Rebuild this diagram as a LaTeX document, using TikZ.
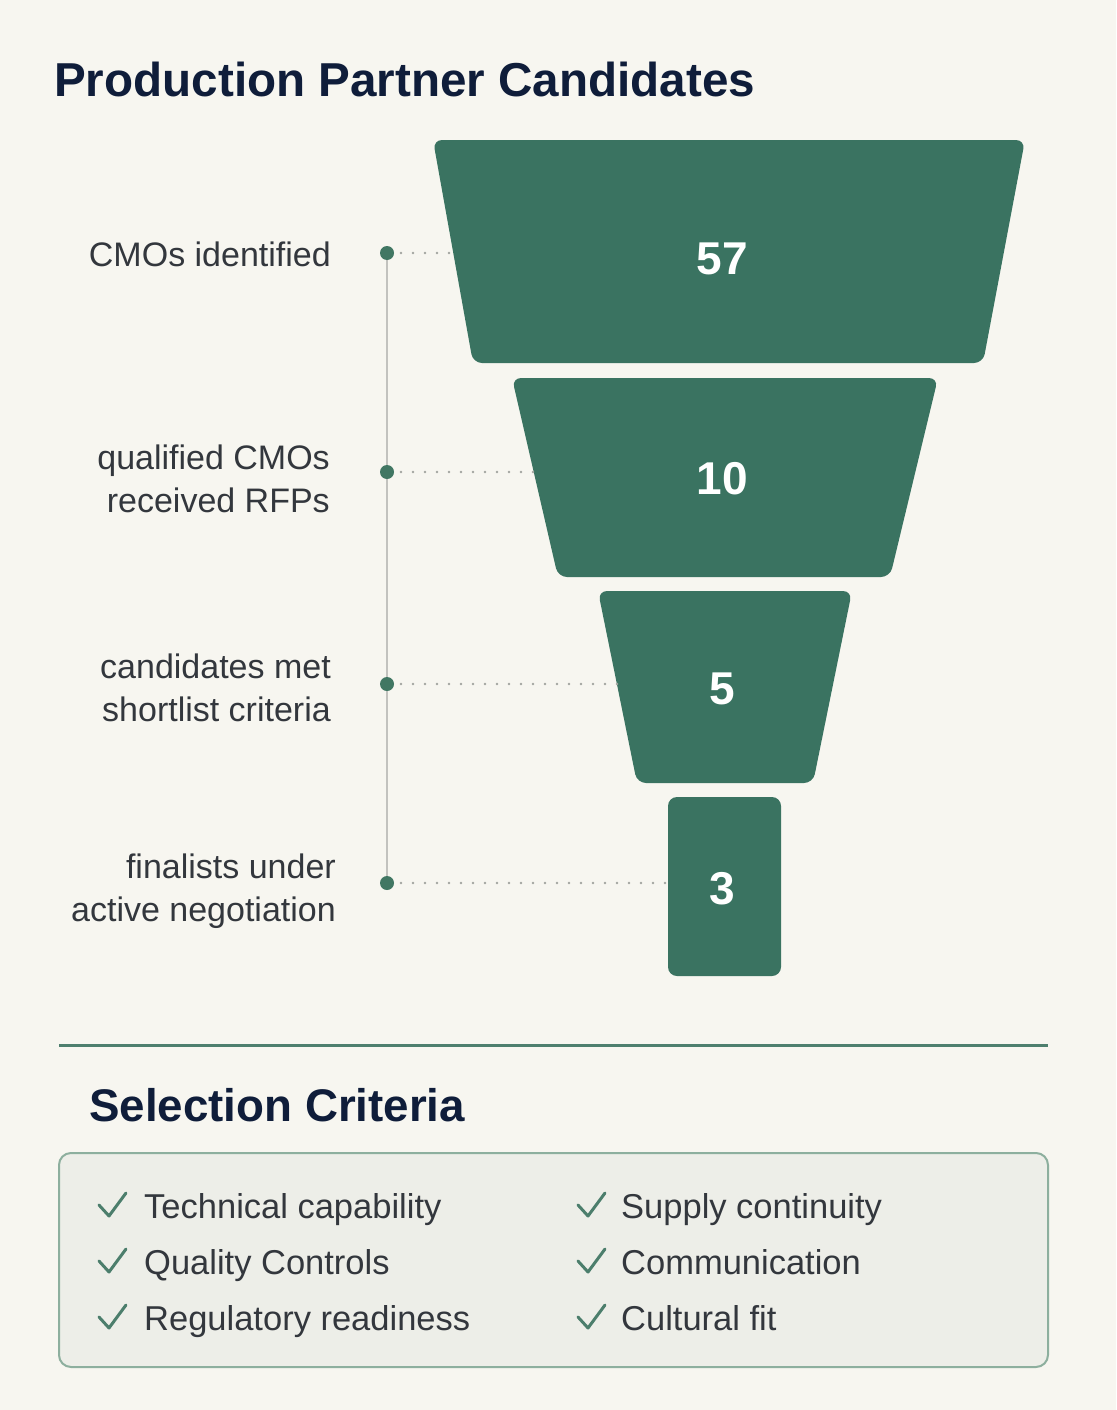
\documentclass[tikz,border=0pt]{standalone}
\usepackage{fontspec}
\setmainfont{Liberation Sans}
\definecolor{bg}{HTML}{F7F6F0}
\definecolor{funnel}{HTML}{3A7361}
\definecolor{navy}{HTML}{0F1D3A}
\definecolor{txt}{HTML}{33373D}
\definecolor{dotc}{HTML}{417763}
\definecolor{vline}{HTML}{C2C2BE}
\definecolor{dotline}{HTML}{A3A5A0}
\definecolor{divider}{HTML}{4E7F6E}
\definecolor{boxfill}{HTML}{EDEEE8}
\definecolor{boxline}{HTML}{8DAF9E}
\definecolor{checkc}{HTML}{4C7E6C}
\tikzset{
  seg/.style={fill=funnel, draw=none, rounded corners=9pt},
  num/.style={text=white, font=\fontsize{46}{50}\selectfont\bfseries},
  lab/.style={text=txt, font=\fontsize{34}{43.5}\selectfont, align=right, anchor=east, inner sep=0pt},
  mdot/.style={circle, fill=dotc, minimum size=14pt, inner sep=0pt},
  conn/.style={draw=dotline, line width=2.8pt, line cap=round, dash pattern=on 0pt off 12pt},
  item/.style={text=txt, font=\fontsize{34.5}{38}\selectfont, anchor=base west, inner sep=0pt},
  chk/.style={draw=checkc, line width=3pt, line cap=round, line join=round}
}
\begin{document}
\begin{tikzpicture}[x=1pt, y=-1pt]
\fill[bg] (0,0) rectangle (1116,1410);
\useasboundingbox (0,0) rectangle (1116,1410);

% title
\node[anchor=west, inner sep=0pt, text=navy, font=\fontsize{47.6}{52}\selectfont\bfseries] (title) at (54,79) {Production Partner Candidates};

% funnel
\fill[seg] (433,140) -- (1025,140) -- (983,363) -- (473,363) -- cycle;
\fill[seg] (512,378) -- (938,378) -- (890,577) -- (558,577) -- cycle;
\fill[seg] (598,591) -- (852,591) -- (813,783) -- (637,783) -- cycle;
\fill[seg] (668,797) -- (781,797) -- (781,976) -- (668,976) -- cycle;

\node[num] (n1) at (722,259) {57};
\node[num] (n2) at (722,479) {10};
\node[num] (n3) at (722,689) {5};
\node[num] (n4) at (722,889) {3};

% funnel edge points
\coordinate (e1) at (453,253);
\coordinate (e2) at (534,472);
\coordinate (e3) at (617,684);
\coordinate (e4) at (666,883);

% vertical line and dots
\coordinate (v1) at (387,253);
\coordinate (v4) at (387,883);
\draw[vline, line width=2pt] (v1) -- (v4);
\node[mdot] (d1) at (387,253) {};
\node[mdot] (d2) at (387,472) {};
\node[mdot] (d3) at (387,684) {};
\node[mdot] (d4) at (387,883) {};

\draw[conn] ([xshift=14pt]d1.center) -- (e1);
\draw[conn] ([xshift=14pt]d2.center) -- (e2);
\draw[conn] ([xshift=14pt]d3.center) -- (e3);
\draw[conn] ([xshift=14pt]d4.center) -- (e4);

% labels
\node[lab, anchor=base east] (l1) at (331,266) {CMOs identified};
\node[lab] (l2) at (330,479) {qualified CMOs\\received RFPs};
\node[lab] (l3) at (331,688) {candidates met\\shortlist criteria};
\node[lab] (l4) at (336,891) {finalists under\hspace{6pt}\\active negotiation};

% divider
\draw[divider, line width=3pt] (59,1045) -- (1048,1045);

% selection criteria
\node[anchor=west, inner sep=0pt, text=navy, font=\fontsize{45.7}{50}\selectfont\bfseries] (sc) at (89,1105) {Selection Criteria};

\draw[boxline, fill=boxfill, line width=2pt, rounded corners=12pt] (59,1153) rectangle (1048,1367);

\foreach \yy in {1218,1274,1330}{
  \draw[chk] (99,\yy-13) -- (109,\yy-2) -- (126,\yy-25);
  \draw[chk] (578,\yy-13) -- (588,\yy-2) -- (605,\yy-25);
}

\node[item] (i1) at (144,1218) {Technical capability};
\node[item] (i2) at (144,1274) {Quality Controls};
\node[item] (i3) at (144,1330) {Regulatory readiness};
\node[item] (i4) at (621,1218) {Supply continuity};
\node[item] (i5) at (621,1274) {Communication};
\node[item] (i6) at (621,1330) {Cultural fit};
\end{tikzpicture}
\end{document}
